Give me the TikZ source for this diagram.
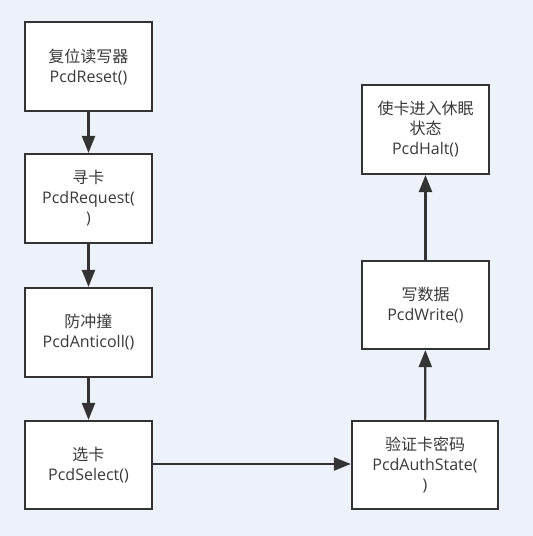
\documentclass[tikz,border=0pt]{standalone}
\usepackage{fontspec}
\setmainfont{Open Sans}
\newfontfamily\cjk{Noto Sans CJK SC}
\usetikzlibrary{arrows.meta}
\definecolor{bg}{HTML}{EDF1F9}
\definecolor{ink}{HTML}{333333}
\definecolor{txt}{HTML}{3A3A3A}
\tikzset{
  stepbox/.style={draw=ink, line width=2.2pt, fill=white, inner sep=0pt, align=center,
    text=txt, font=\fontsize{16}{20}\selectfont},
  flow/.style={draw=ink, line width=2.2pt, -{Triangle[length=17pt,width=13pt]}}
}
\begin{document}
\begin{tikzpicture}[x=1pt,y=-1pt]
\fill[bg] (0,0) rectangle (533,536);
\useasboundingbox (0,0) rectangle (533,536);
\node[stepbox, minimum width=127pt, minimum height=89pt] (reset) at (88.5,66.5) {{\cjk 复位读写器}\\PcdReset()};
\node[stepbox, minimum width=127pt, minimum height=89pt] (req) at (88.5,198.5) {{\cjk 寻卡}\\PcdRequest(\\)};
\node[stepbox, minimum width=127pt, minimum height=89pt] (anti) at (88.5,332.5) {{\cjk 防冲撞}\\PcdAnticoll()};
\node[stepbox, minimum width=127pt, minimum height=88pt] (sel) at (88.5,465) {{\cjk 选卡}\\PcdSelect()};
\node[stepbox, minimum width=146pt, minimum height=88pt] (auth) at (425,465) {{\cjk 验证卡密码}\\PcdAuthState(\\)};
\node[stepbox, minimum width=127pt, minimum height=88pt] (write) at (425.5,305) {{\cjk 写数据}\\PcdWrite()};
\node[stepbox, minimum width=127pt, minimum height=89pt] (halt) at (425.5,129.5) {{\cjk 使卡进入休眠}\\{\cjk 状态}\\PcdHalt()};
\draw[flow] (reset) -- (req);
\draw[flow] (req) -- (anti);
\draw[flow] (anti) -- (sel);
\draw[flow] (sel.east |- 0,464) -- (auth.west |- 0,464);
\draw[flow] (auth) -- (write);
\draw[flow] (write) -- (halt);
\end{tikzpicture}
\end{document}
